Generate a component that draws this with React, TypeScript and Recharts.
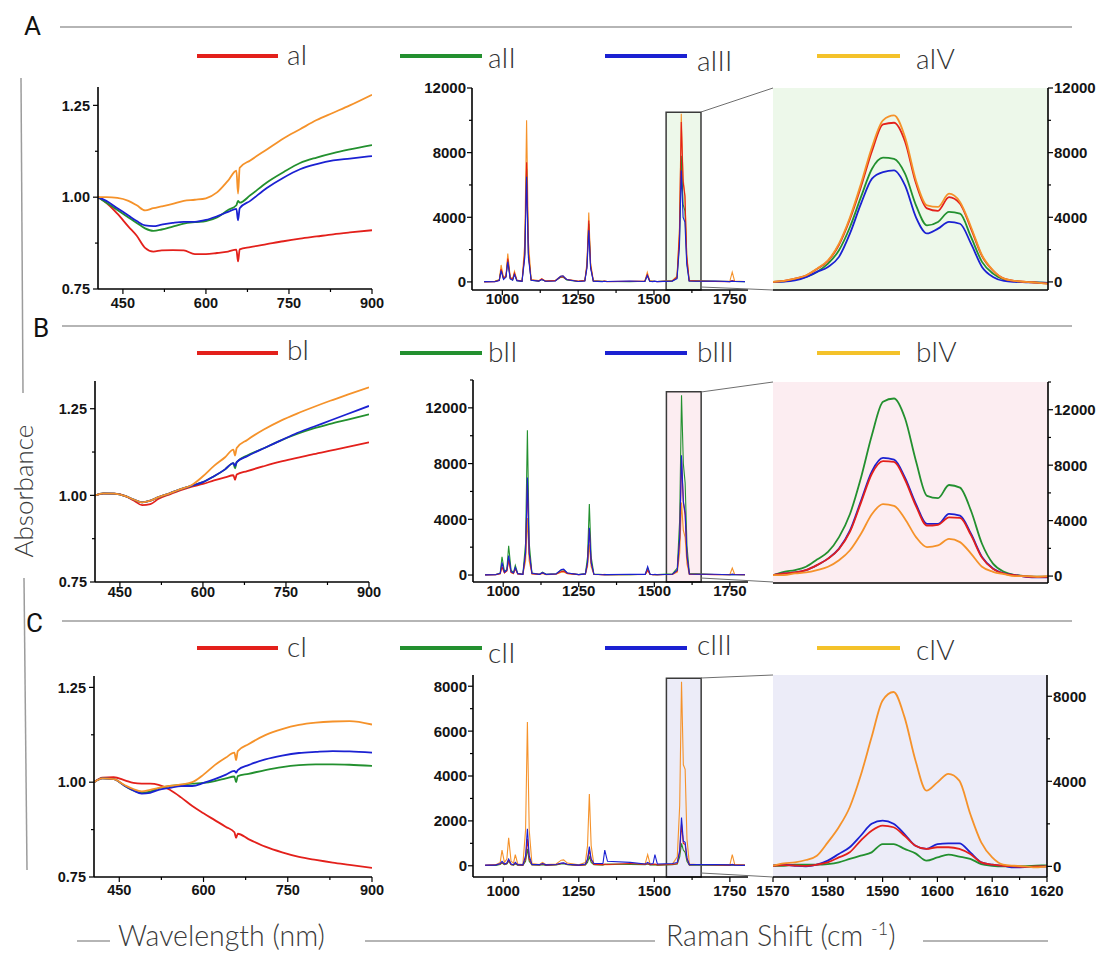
import React from "react";
import { LineChart, Line, XAxis, YAxis, ReferenceArea, CartesianGrid } from "recharts";

// ---------- series colours ----------
const RED = "#e3201b";
const GREEN = "#23902f";
const BLUE = "#1b21d2";
const ORANGE = "#f5922a";
const LEGEND_IV = "#f4c22a";

// ---------- UV-vis absorbance (wavelength in nm) ----------
const WAVELENGTH = [405, 420, 440, 460, 475, 490, 505, 520, 540, 560, 580, 600, 620, 640, 655, 658, 661, 680, 710, 740, 770, 800, 830, 860, 900];

const UV_A_I = [1.0, 0.985, 0.955, 0.92, 0.895, 0.862, 0.852, 0.855, 0.856, 0.855, 0.845, 0.845, 0.848, 0.852, 0.857, 0.825, 0.858, 0.864, 0.872, 0.88, 0.887, 0.893, 0.899, 0.904, 0.91];
const UV_A_II = [1.0, 0.985, 0.965, 0.945, 0.93, 0.915, 0.908, 0.912, 0.92, 0.928, 0.932, 0.935, 0.945, 0.965, 0.978, 0.99, 0.985, 1.005, 1.04, 1.068, 1.093, 1.108, 1.12, 1.13, 1.142];
const UV_A_III = [1.0, 0.99, 0.97, 0.95, 0.935, 0.923, 0.921, 0.925, 0.93, 0.933, 0.933, 0.938, 0.948, 0.96, 0.968, 0.937, 0.97, 0.99, 1.025, 1.053, 1.076, 1.09, 1.1, 1.105, 1.112];
const UV_A_IV = [1.0, 1.0, 0.998, 0.99, 0.978, 0.964, 0.97, 0.975, 0.982, 0.99, 0.993, 0.997, 1.013, 1.045, 1.072, 1.01, 1.08, 1.1, 1.13, 1.16, 1.185, 1.21, 1.23, 1.25, 1.279];

const UV_B_I = [1.0, 1.005, 1.005, 0.998, 0.985, 0.972, 0.975, 0.99, 1.003, 1.015, 1.025, 1.033, 1.043, 1.052, 1.058, 1.045, 1.06, 1.07, 1.084, 1.097, 1.108, 1.119, 1.129, 1.139, 1.153];
const UV_B_II = [1.0, 1.006, 1.005, 0.998, 0.988, 0.98, 0.985, 0.995, 1.006, 1.018, 1.028, 1.038, 1.055, 1.075, 1.093, 1.078, 1.096, 1.115, 1.136, 1.158, 1.177, 1.193, 1.206, 1.218, 1.234];
const UV_B_III = [1.0, 1.006, 1.005, 0.998, 0.988, 0.98, 0.985, 0.995, 1.006, 1.018, 1.028, 1.038, 1.055, 1.075, 1.093, 1.085, 1.096, 1.113, 1.136, 1.158, 1.18, 1.198, 1.216, 1.234, 1.258];
const UV_B_IV = [1.0, 1.006, 1.005, 0.998, 0.988, 0.98, 0.985, 0.995, 1.006, 1.018, 1.03, 1.055, 1.085, 1.11, 1.132, 1.115, 1.137, 1.16, 1.19, 1.215, 1.236, 1.255, 1.273, 1.29, 1.312];

const UV_C_I = [1.0, 1.012, 1.013, 1.005, 0.998, 0.996, 0.996, 0.993, 0.98, 0.96, 0.937, 0.918, 0.9, 0.882, 0.868, 0.853, 0.864, 0.85, 0.83, 0.815, 0.803, 0.795, 0.788, 0.782, 0.774];
const UV_C_II = [1.0, 1.01, 1.008, 0.99, 0.978, 0.972, 0.975, 0.984, 0.99, 0.993, 0.996, 0.998, 1.003, 1.01, 1.015, 1.0, 1.016, 1.022, 1.032, 1.04, 1.045, 1.047, 1.047, 1.046, 1.043];
const UV_C_III = [1.0, 1.01, 1.008, 0.99, 0.978, 0.97, 0.972, 0.98, 0.985, 0.99, 0.99, 0.998, 1.008, 1.02, 1.03, 1.025, 1.032, 1.045, 1.06, 1.07, 1.077, 1.08, 1.082, 1.081, 1.078];
const UV_C_IV = [1.0, 1.01, 1.008, 0.992, 0.982, 0.976, 0.98, 0.985, 0.99, 0.994, 1.0, 1.02, 1.045, 1.065, 1.078, 1.058, 1.082, 1.1, 1.124, 1.14, 1.151, 1.157, 1.16, 1.161, 1.152];

// ---------- full Raman spectra (shift in cm-1) ----------
const RAMAN_SHIFT = [940, 975, 990, 996, 1004, 1012, 1018, 1026, 1034, 1040, 1048, 1065, 1074, 1080, 1086, 1095, 1120, 1130, 1142, 1175, 1192, 1200, 1212, 1250, 1272, 1279, 1285, 1291, 1300, 1330, 1336, 1345, 1420, 1470, 1478, 1486, 1496, 1502, 1510, 1560, 1576, 1584, 1590, 1596, 1602, 1608, 1616, 1640, 1700, 1750, 1758, 1766, 1800];

const RAMAN_A_I = [0, 20, 100, 800, 200, 350, 1450, 250, 150, 550, 100, 50, 1800, 7400, 1800, 120, 60, 180, 50, 80, 300, 320, 150, 40, 80, 1000, 3800, 1000, 60, 30, 50, 20, 40, 50, 450, 60, 30, 40, 20, 60, 300, 3000, 9900, 6200, 5300, 1600, 80, 60, 30, 20, 80, 40, 30];
const RAMAN_A_II = [10, 30, 120, 750, 180, 300, 1350, 200, 120, 500, 80, 40, 1700, 7000, 1700, 100, 50, 150, 40, 70, 280, 300, 120, 30, 70, 950, 3600, 950, 50, 40, 30, 30, 20, 40, 400, 50, 40, 30, 30, 50, 250, 2500, 7800, 4800, 4400, 1300, 60, 50, 40, 30, 50, 30, 20];
const RAMAN_A_III = [20, 10, 80, 700, 150, 300, 1250, 180, 100, 450, 80, 40, 1500, 6500, 1500, 100, 50, 150, 40, 60, 350, 380, 150, 30, 60, 850, 3200, 850, 50, 20, 40, 30, 60, 30, 400, 40, 20, 50, 20, 50, 200, 2200, 6900, 4000, 3700, 1100, 60, 40, 60, 20, 50, 30, 20];
const RAMAN_A_IV = [30, 40, 150, 1050, 250, 400, 1750, 300, 200, 650, 120, 60, 2400, 10000, 2500, 150, 80, 200, 60, 100, 350, 380, 160, 50, 100, 1200, 4300, 1200, 80, 40, 60, 40, 30, 60, 600, 70, 50, 40, 30, 80, 350, 3300, 10400, 6400, 5400, 1700, 100, 80, 40, 40, 600, 50, 30];

const RAMAN_B_I = [10, 30, 100, 600, 150, 300, 1100, 200, 120, 450, 80, 40, 1500, 6600, 1500, 100, 50, 150, 40, 70, 250, 280, 120, 30, 70, 850, 3300, 850, 50, 30, 40, 20, 40, 50, 350, 50, 30, 40, 20, 60, 300, 2600, 8300, 5200, 4300, 1300, 60, 60, 30, 20, 60, 40, 30];
const RAMAN_B_II = [20, 40, 150, 1300, 250, 400, 2100, 350, 180, 700, 120, 60, 2300, 10400, 2300, 150, 60, 200, 60, 90, 350, 380, 150, 40, 100, 1300, 5100, 1300, 70, 40, 30, 30, 20, 60, 500, 60, 40, 30, 30, 80, 500, 4000, 12900, 8000, 6600, 2100, 100, 80, 40, 30, 50, 30, 20];
const RAMAN_B_III = [10, 20, 120, 900, 200, 350, 1400, 250, 150, 550, 100, 50, 1600, 7000, 1600, 120, 50, 170, 50, 80, 400, 420, 150, 30, 80, 900, 3400, 900, 50, 20, 40, 30, 60, 50, 600, 60, 20, 50, 20, 60, 350, 2700, 8600, 5300, 4500, 1400, 70, 60, 60, 20, 50, 30, 20];
const RAMAN_B_IV = [30, 20, 80, 550, 150, 300, 1000, 180, 100, 450, 80, 40, 1000, 4100, 1000, 80, 40, 120, 30, 60, 200, 220, 100, 20, 50, 600, 2200, 600, 40, 30, 50, 20, 30, 40, 300, 40, 30, 40, 30, 40, 200, 1600, 5200, 3200, 2700, 800, 50, 50, 40, 40, 500, 50, 30];

const RAMAN_C_I = [20, 40, 80, 150, 60, 100, 250, 60, 40, 120, 40, 30, 300, 1200, 300, 50, 40, 80, 30, 50, 100, 110, 60, 20, 50, 250, 700, 250, 60, 50, 80, 60, 100, 60, 100, 50, 60, 80, 40, 60, 100, 600, 1850, 1000, 950, 300, 40, 60, 40, 30, 60, 40, 30];
const RAMAN_C_II = [10, 20, 60, 120, 50, 80, 200, 50, 30, 80, 30, 20, 200, 750, 200, 40, 30, 50, 20, 40, 80, 90, 50, 20, 40, 150, 400, 150, 50, 40, 60, 80, 60, 50, 80, 40, 40, 50, 30, 50, 80, 400, 1000, 700, 600, 200, 30, 40, 30, 20, 40, 30, 20];
const RAMAN_C_III = [30, 30, 100, 200, 80, 120, 300, 80, 50, 150, 50, 40, 450, 1650, 450, 60, 50, 100, 40, 60, 120, 130, 70, 30, 80, 300, 850, 300, 100, 100, 700, 200, 150, 80, 150, 80, 100, 500, 80, 100, 150, 700, 2150, 1100, 1050, 350, 50, 50, 60, 40, 50, 30, 20];
const RAMAN_C_IV = [20, 50, 150, 700, 150, 300, 1250, 200, 120, 500, 80, 50, 1600, 6400, 1600, 100, 60, 150, 50, 80, 250, 260, 120, 40, 150, 900, 3200, 900, 60, 40, 60, 50, 80, 100, 500, 80, 50, 60, 40, 80, 400, 2700, 8200, 4500, 4300, 1200, 80, 60, 40, 40, 500, 60, 30];

// ---------- G-band detail, 1570-1620 cm-1 ----------
const G_SHIFT = [1570, 1572, 1574, 1576, 1578, 1580, 1582, 1584, 1586, 1588, 1590, 1592, 1594, 1596, 1598, 1600, 1602, 1604, 1606, 1608, 1610, 1612, 1614, 1616, 1618, 1620];

const G_A_I = [0, 60, 200, 400, 800, 1300, 2300, 3900, 5900, 8100, 9750, 9850, 8700, 6100, 4550, 4400, 5250, 4850, 3300, 1600, 700, 200, 60, 0, -40, -100];
const G_A_II = [0, 40, 140, 310, 620, 1130, 1960, 3400, 5260, 7000, 7690, 7620, 6700, 4740, 3500, 3710, 4330, 4220, 2780, 1240, 515, 150, 40, 0, -30, -60];
const G_A_III = [0, 20, 100, 300, 620, 930, 1550, 3000, 4840, 6390, 6800, 6900, 5970, 4000, 3000, 3300, 3710, 3600, 2370, 930, 310, 60, 0, -20, -40, -60];
const G_A_IV = [0, 60, 200, 400, 820, 1340, 2370, 4000, 6080, 8350, 10000, 10300, 8960, 6280, 4740, 4640, 5460, 4950, 3400, 1650, 720, 200, 60, 0, -40, -100];

const G_B_I = [70, 190, 260, 430, 790, 1260, 1950, 3200, 5300, 7400, 8290, 8240, 6950, 5050, 3640, 3700, 4240, 4200, 2950, 1330, 520, 180, 60, -30, -60, -50];
const G_B_II = [70, 310, 430, 670, 1190, 1740, 2810, 4480, 7100, 10190, 12570, 12810, 11380, 8290, 5790, 5620, 6570, 6380, 4710, 2330, 900, 310, 70, 0, -50, -50];
const G_B_III = [70, 190, 260, 430, 790, 1260, 1980, 3290, 5430, 7570, 8520, 8400, 7100, 5190, 3760, 3760, 4480, 4360, 3050, 1380, 550, 190, 70, -50, -100, -100];
const G_B_IV = [70, 70, 190, 260, 430, 670, 1140, 1860, 3050, 4480, 5190, 5070, 4120, 2810, 2090, 2210, 2690, 2450, 1620, 670, 310, 140, 0, 0, -50, 0];

const G_C_I = [30, 60, 40, 20, 80, 190, 420, 660, 1210, 1680, 1920, 1840, 1440, 970, 820, 900, 900, 820, 580, 190, 80, 30, 0, -20, 0, 0];
const G_C_II = [30, 30, 80, 80, 80, 110, 190, 350, 500, 660, 1050, 1050, 820, 610, 270, 420, 550, 460, 350, 110, 30, 0, 0, 10, 30, 50];
const G_C_III = [30, 80, 30, 0, 80, 270, 580, 900, 1440, 2000, 2150, 2000, 1520, 970, 820, 1050, 1080, 1080, 660, 190, 80, 30, -50, -40, -20, 0];
const G_C_IV = [30, 140, 190, 300, 500, 1130, 1840, 2780, 4270, 6080, 7800, 8200, 7020, 4980, 3560, 3950, 4350, 4030, 2460, 1130, 420, 80, 30, 0, -50, 0];

// ---------- axis ticks ----------
const UV_X_TICKS = [450, 525, 600, 675, 750, 825, 900];
const UV_X_MAJOR = [450, 600, 750, 900];
const UV_Y_TICKS = [0.75, 0.875, 1.0, 1.125, 1.25];
const UV_Y_MAJOR = [0.75, 1.0, 1.25];
const RAMAN_X_TICKS = [1000, 1125, 1250, 1375, 1500, 1625, 1750];
const RAMAN_X_MAJOR = [1000, 1250, 1500, 1750];
const G_X_TICKS = [1570, 1575, 1580, 1585, 1590, 1595, 1600, 1605, 1610, 1615, 1620];
const G_X_MAJOR = [1570, 1580, 1590, 1600, 1610, 1620];
const Y12K_TICKS = [0, 2000, 4000, 6000, 8000, 10000, 12000];
const Y14K_TICKS = [0, 2000, 4000, 6000, 8000, 10000, 12000, 14000];
const Y4K_MAJOR = [0, 4000, 8000, 12000];
const Y8K_TICKS = [0, 1000, 2000, 3000, 4000, 5000, 6000, 7000, 8000];
const Y8K_MAJOR = [0, 2000, 4000, 6000, 8000];
const GC_Y_TICKS = [0, 2000, 4000, 6000, 8000];
const GC_Y_MAJOR = [0, 4000, 8000];

// ---------- legend labels ----------
const LEGEND_A = ["aI", "aII", "aIII", "aIV"];
const LEGEND_B = ["bI", "bII", "bIII", "bIV"];
const LEGEND_C = ["cI", "cII", "cIII", "cIV"];

function table(xs: number[], cols: Record<string, number[]>) {
  return xs.map((x, i) => {
    const row: Record<string, number> = { x };
    for (const k of Object.keys(cols)) row[k] = cols[k][i];
    return row;
  });
}

const uvA = table(WAVELENGTH, { s1: UV_A_I, s2: UV_A_II, s3: UV_A_III, s4: UV_A_IV });
const uvB = table(WAVELENGTH, { s1: UV_B_I, s2: UV_B_II, s3: UV_B_III, s4: UV_B_IV });
const uvC = table(WAVELENGTH, { s1: UV_C_I, s2: UV_C_II, s3: UV_C_III, s4: UV_C_IV });
const ramA = table(RAMAN_SHIFT, { s1: RAMAN_A_I, s2: RAMAN_A_II, s3: RAMAN_A_III, s4: RAMAN_A_IV });
const ramB = table(RAMAN_SHIFT, { s1: RAMAN_B_I, s2: RAMAN_B_II, s3: RAMAN_B_III, s4: RAMAN_B_IV });
const ramC = table(RAMAN_SHIFT, { s1: RAMAN_C_I, s2: RAMAN_C_II, s3: RAMAN_C_III, s4: RAMAN_C_IV });
const gA = table(G_SHIFT, { s1: G_A_I, s2: G_A_II, s3: G_A_III, s4: G_A_IV });
const gB = table(G_SHIFT, { s1: G_B_I, s2: G_B_II, s3: G_B_III, s4: G_B_IV });
const gC = table(G_SHIFT, { s1: G_C_I, s2: G_C_II, s3: G_C_III, s4: G_C_IV });

type Side = "left" | "right" | "bottom";
const TICK_FONT = "'Liberation Sans', Arimo, Arial, sans-serif";

function makeTick(side: Side, majors: number[], fmt: (v: number) => string, size: number, gap: number, labels = true) {
  return (props: any) => {
    const { x, y, payload } = props;
    const v = payload.value as number;
    const major = majors.some((m) => Math.abs(m - v) < 1e-9);
    const len = major ? 5 : 3;
    const txt = major && labels ? fmt(v) : null;
    const style = { fontFamily: TICK_FONT, fontWeight: 700, fontSize: size, fill: "#141414" } as React.CSSProperties;
    if (side === "bottom") {
      return (
        <g>
          <line x1={x} y1={y} x2={x} y2={y + len} stroke="#000" strokeWidth={1.2} />
          {txt && <text x={x} y={y + gap + size * 0.72} textAnchor="middle" style={style}>{txt}</text>}
        </g>
      );
    }
    if (side === "left") {
      return (
        <g>
          <line x1={x - len} y1={y} x2={x} y2={y} stroke="#000" strokeWidth={1.2} />
          {txt && <text x={x - gap} y={y + size * 0.36} textAnchor="end" style={style}>{txt}</text>}
        </g>
      );
    }
    return (
      <g>
        <line x1={x} y1={y} x2={x + len} y2={y} stroke="#000" strokeWidth={1.2} />
        {txt && <text x={x + gap} y={y + size * 0.36} textAnchor="start" style={style}>{txt}</text>}
      </g>
    );
  };
}

type Rect = { x: number; y: number; w: number; h: number };
type SeriesDef = { key: string; color: string; width: number };

interface PanelProps {
  rect: Rect;
  data: Record<string, number>[];
  xDomain: [number, number];
  yDomain: [number, number];
  xTicks?: number[];
  xMajor?: number[];
  xGap?: number;
  yTicks: number[];
  yMajor: number[];
  ySide: "left" | "right";
  yFmt: (v: number) => string;
  yGap: number;
  fontSize: number;
  framed: boolean;
  bg?: string;
  series: SeriesDef[];
  curve: "linear" | "monotone";
  zoom?: { x1: number; x2: number; y1: number; y2: number; fill: string };
}

const M = 16;
const YW = 60;
const XH = 30;
const AXIS = { stroke: "#000", strokeWidth: 1.6 };

function Panel(p: PanelProps) {
  const left = p.ySide === "left" ? p.rect.x - M - YW : p.rect.x - M;
  const width = p.rect.w + 2 * M + YW;
  const height = p.rect.h + 2 * M + XH;
  const other = p.ySide === "left" ? "right" : "left";
  return (
    <div style={{ position: "absolute", left, top: p.rect.y - M }}>
      <LineChart width={width} height={height} data={p.data} margin={{ top: M, right: M, bottom: M, left: M }}>
        {p.bg && <CartesianGrid xAxisId="b" yAxisId="m" horizontal={false} vertical={false} fill={p.bg} fillOpacity={1} stroke="none" />}
        <XAxis
          xAxisId="b"
          dataKey="x"
          type="number"
          domain={p.xDomain}
          allowDataOverflow
          ticks={p.xTicks ?? []}
          interval={0}
          height={XH}
          tickSize={0}
          tickMargin={0}
          tickLine={false}
          axisLine={AXIS}
          tick={p.xTicks ? makeTick("bottom", p.xMajor ?? [], (v) => String(v), p.fontSize, p.xGap ?? 8) : false}
        />
        {p.framed && (
          <XAxis xAxisId="t" orientation="top" dataKey="x" type="number" domain={p.xDomain} allowDataOverflow height={0} tick={false} tickLine={false} axisLine={AXIS} />
        )}
        <YAxis
          yAxisId="m"
          orientation={p.ySide}
          type="number"
          domain={p.yDomain}
          allowDataOverflow
          ticks={p.yTicks}
          interval={0}
          width={YW}
          tickSize={0}
          tickMargin={0}
          tickLine={false}
          axisLine={AXIS}
          tick={makeTick(p.ySide, p.yMajor, p.yFmt, p.fontSize, p.yGap)}
        />
        {p.framed && (
          <YAxis yAxisId="f" orientation={other} type="number" domain={p.yDomain} allowDataOverflow width={0} tick={false} tickLine={false} axisLine={AXIS} />
        )}
        {p.zoom && (
          <ReferenceArea
            xAxisId="b"
            yAxisId="m"
            x1={p.zoom.x1}
            x2={p.zoom.x2}
            y1={p.zoom.y1}
            y2={p.zoom.y2}
            fill={p.zoom.fill}
            fillOpacity={1}
            stroke="#3a3a3a"
            strokeWidth={1.5}
          />
        )}
        {p.series.map((s) => (
          <Line
            key={s.key}
            xAxisId="b"
            yAxisId="m"
            dataKey={s.key}
            stroke={s.color}
            strokeWidth={s.width}
            type={p.curve}
            dot={false}
            activeDot={false}
            isAnimationActive={false}
          />
        ))}
      </LineChart>
    </div>
  );
}

const uvSeries: SeriesDef[] = [
  { key: "s1", color: RED, width: 1.8 },
  { key: "s2", color: GREEN, width: 1.8 },
  { key: "s3", color: BLUE, width: 1.8 },
  { key: "s4", color: ORANGE, width: 1.8 },
];
const ramanSeries: SeriesDef[] = [
  { key: "s4", color: ORANGE, width: 1.1 },
  { key: "s2", color: GREEN, width: 1.1 },
  { key: "s1", color: RED, width: 1.1 },
  { key: "s3", color: BLUE, width: 1.1 },
];
const gSeries: SeriesDef[] = [
  { key: "s2", color: GREEN, width: 1.8 },
  { key: "s3", color: BLUE, width: 1.8 },
  { key: "s1", color: RED, width: 1.8 },
  { key: "s4", color: ORANGE, width: 1.8 },
];

const fmt2 = (v: number) => v.toFixed(2);
const fmt0 = (v: number) => String(v);

const BG_A = "#edf8ea";
const BG_B = "#fcedf1";
const BG_C = "#ececf8";

const LEGEND_LINES = [
  { x1: 197, x2: 278, tx: 287, color: RED },
  { x1: 400, x2: 482, tx: 488, color: GREEN },
  { x1: 605, x2: 687, tx: 697, color: BLUE },
  { x1: 817, x2: 900, tx: 916, color: LEGEND_IV },
];

function Legend({ labels, lineY, baselines }: { labels: string[]; lineY: number; baselines: number[] }) {
  return (
    <g>
      {LEGEND_LINES.map((l, i) => (
        <g key={labels[i]}>
          <line x1={l.x1} y1={lineY} x2={l.x2} y2={lineY} stroke={l.color} strokeWidth={4} />
          <text x={l.tx} y={baselines[i]} fontFamily="Lato, sans-serif" fontWeight={300} fontSize={28} fill="#333">
            {labels[i]}
          </text>
        </g>
      ))}
    </g>
  );
}

const RULE = "#9c9c9c";
const LINK = "#6e6e6e";

export default function App() {
  return (
    <div style={{ position: "relative", width: 1097, height: 953, background: "#fff", overflow: "hidden" }}>
      <style>{"body{margin:0}"}</style>

      {/* Row A */}
      <Panel rect={{ x: 98, y: 87, w: 274, h: 202 }} data={uvA} xDomain={[405, 900]} yDomain={[0.75, 1.3]}
        xTicks={UV_X_TICKS} xMajor={UV_X_MAJOR} xGap={9} yTicks={UV_Y_TICKS} yMajor={UV_Y_MAJOR}
        ySide="left" yFmt={fmt2} yGap={8} fontSize={14.5} framed series={uvSeries} curve="monotone" />
      <Panel rect={{ x: 472, y: 88, w: 276, h: 202 }} data={ramA} xDomain={[900, 1810]} yDomain={[-500, 12000]}
        xTicks={RAMAN_X_TICKS} xMajor={RAMAN_X_MAJOR} xGap={3} yTicks={Y12K_TICKS} yMajor={Y4K_MAJOR}
        ySide="left" yFmt={fmt0} yGap={6} fontSize={15} framed={false} series={ramanSeries} curve="linear"
        zoom={{ x1: 1540, x2: 1655, y1: -500, y2: 10500, fill: BG_A }} />
      <Panel rect={{ x: 773, y: 88, w: 275, h: 202 }} data={gA} xDomain={[1570, 1620]} yDomain={[-500, 12000]}
        yTicks={Y12K_TICKS} yMajor={Y4K_MAJOR} ySide="right" yFmt={fmt0} yGap={6} fontSize={15}
        framed bg={BG_A} series={gSeries} curve="monotone" />

      {/* Row B */}
      <Panel rect={{ x: 95, y: 381, w: 274, h: 201 }} data={uvB} xDomain={[405, 900]} yDomain={[0.75, 1.33]}
        xTicks={UV_X_TICKS} xMajor={UV_X_MAJOR} xGap={5} yTicks={UV_Y_TICKS} yMajor={UV_Y_MAJOR}
        ySide="left" yFmt={fmt2} yGap={8} fontSize={14.5} framed series={uvSeries} curve="monotone" />
      <Panel rect={{ x: 473, y: 380, w: 275, h: 202 }} data={ramB} xDomain={[900, 1810]} yDomain={[-500, 14000]}
        xTicks={RAMAN_X_TICKS} xMajor={RAMAN_X_MAJOR} xGap={3} yTicks={Y14K_TICKS} yMajor={Y4K_MAJOR}
        ySide="left" yFmt={fmt0} yGap={6} fontSize={15} framed={false} series={ramanSeries} curve="linear"
        zoom={{ x1: 1540, x2: 1655, y1: -500, y2: 13150, fill: BG_B }} />
      <Panel rect={{ x: 773, y: 382, w: 275, h: 201 }} data={gB} xDomain={[1570, 1620]} yDomain={[-500, 14000]}
        yTicks={Y14K_TICKS} yMajor={Y4K_MAJOR} ySide="right" yFmt={fmt0} yGap={6} fontSize={15}
        framed bg={BG_B} series={gSeries} curve="monotone" />

      {/* Row C */}
      <Panel rect={{ x: 94, y: 676, w: 278, h: 201 }} data={uvC} xDomain={[405, 900]} yDomain={[0.75, 1.28]}
        xTicks={UV_X_TICKS} xMajor={UV_X_MAJOR} xGap={8} yTicks={UV_Y_TICKS} yMajor={UV_Y_MAJOR}
        ySide="left" yFmt={fmt2} yGap={8} fontSize={14.5} framed series={uvSeries} curve="monotone" />
      <Panel rect={{ x: 473, y: 675, w: 275, h: 202 }} data={ramC} xDomain={[900, 1810]} yDomain={[-500, 8500]}
        xTicks={RAMAN_X_TICKS} xMajor={RAMAN_X_MAJOR} xGap={8} yTicks={Y8K_TICKS} yMajor={Y8K_MAJOR}
        ySide="left" yFmt={fmt0} yGap={6} fontSize={15} framed={false} series={ramanSeries} curve="linear"
        zoom={{ x1: 1540, x2: 1655, y1: -500, y2: 8360, fill: BG_C }} />
      <Panel rect={{ x: 773, y: 675, w: 274, h: 202 }} data={gC} xDomain={[1570, 1620]} yDomain={[-500, 9000]}
        xTicks={G_X_TICKS} xMajor={G_X_MAJOR} xGap={8} yTicks={GC_Y_TICKS} yMajor={GC_Y_MAJOR}
        ySide="right" yFmt={fmt0} yGap={6} fontSize={15} framed bg={BG_C} series={gSeries} curve="monotone" />

      {/* labels, rules and zoom connectors */}
      <svg width={1097} height={953} style={{ position: "absolute", left: 0, top: 0, pointerEvents: "none" }}>
        <text x={24} y={35} fontFamily="Roboto, sans-serif" fontSize={26} fill="#111">A</text>
        <text x={33} y={337} fontFamily="Roboto, sans-serif" fontSize={26} fill="#111">B</text>
        <text x={26} y={632} fontFamily="Roboto, sans-serif" fontSize={26} fill="#111">C</text>
        <line x1={60} y1={27} x2={1072} y2={27} stroke={RULE} strokeWidth={1.5} />
        <line x1={62} y1={326} x2={1072} y2={326} stroke={RULE} strokeWidth={1.5} />
        <line x1={62} y1={621} x2={1072} y2={621} stroke={RULE} strokeWidth={1.5} />

        <Legend labels={LEGEND_A} lineY={56} baselines={[65, 68, 71, 69]} />
        <Legend labels={LEGEND_B} lineY={353} baselines={[360, 362, 362, 362]} />
        <Legend labels={LEGEND_C} lineY={648} baselines={[657, 663, 655, 660]} />

        {/* left axis title */}
        <line x1={21} y1={78} x2={23} y2={393} stroke={RULE} strokeWidth={1.5} />
        <line x1={24} y1={578} x2={27} y2={870} stroke={RULE} strokeWidth={1.5} />
        <text transform="translate(33,491) rotate(-90)" textAnchor="middle" fontFamily="Lato, sans-serif" fontWeight={300} fontSize={26} fill="#3a3a3a">
          Absorbance
        </text>

        {/* bottom axis titles */}
        <line x1={77} y1={941} x2={110} y2={941} stroke={RULE} strokeWidth={1.5} />
        <text x={118} y={946} fontFamily="Lato, sans-serif" fontWeight={300} fontSize={28.5} fill="#3a3a3a">Wavelength (nm)</text>
        <line x1={365} y1={941} x2={655} y2={941} stroke={RULE} strokeWidth={1.5} />
        <text x={666} y={946} fontFamily="Lato, sans-serif" fontWeight={300} fontSize={28.5} fill="#3a3a3a">
          Raman Shift (cm <tspan fontSize={18} dy={-11}>-1</tspan><tspan dy={11}>)</tspan>
        </text>
        <line x1={923} y1={941} x2={1048} y2={941} stroke={RULE} strokeWidth={1.5} />

        {/* zoom connectors */}
        <line x1={701} y1={112} x2={773} y2={88} stroke={LINK} strokeWidth={1} />
        <line x1={701} y1={287} x2={773} y2={290} stroke={LINK} strokeWidth={1} />
        <line x1={701} y1={392} x2={773} y2={382} stroke={LINK} strokeWidth={1} />
        <line x1={701} y1={578} x2={773} y2={582} stroke={LINK} strokeWidth={1} />
        <line x1={701} y1={678} x2={773} y2={675} stroke={LINK} strokeWidth={1} />
        <line x1={701} y1={873} x2={773} y2={877} stroke={LINK} strokeWidth={1} />
      </svg>
    </div>
  );
}
